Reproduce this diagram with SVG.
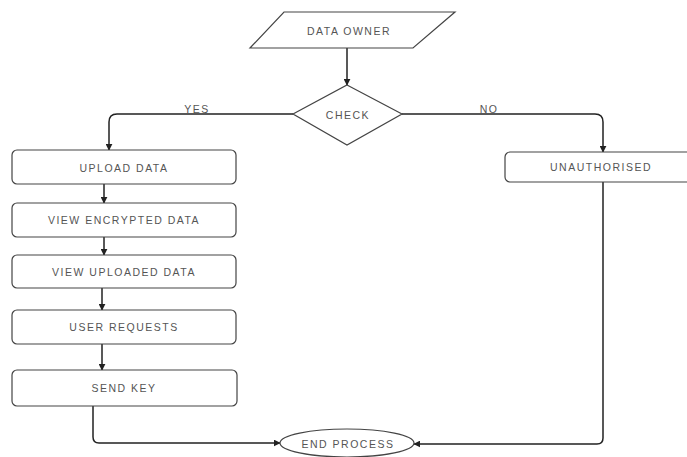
<svg xmlns="http://www.w3.org/2000/svg" width="687" height="457" viewBox="0 0 687 457">
<defs>
<marker id="arr" viewBox="0 0 10 10" refX="9" refY="5" markerWidth="7" markerHeight="7" markerUnits="userSpaceOnUse" orient="auto">
<path d="M0,0 L10,5 L0,10 z" fill="#222"/>
</marker>
<style>
.shape{fill:#fff;stroke:#444;stroke-width:1.2}
.t{font-family:"Liberation Sans",Arial,sans-serif;font-size:10.5px;letter-spacing:1.5px;fill:#555;text-anchor:middle;dominant-baseline:central}
.c{fill:none;stroke:#444;stroke-width:1.2}
.ca{fill:none;stroke:#222;stroke-width:1.5;marker-end:url(#arr)}
</style>
</defs>
<rect width="687" height="457" fill="#fff"/>
<g id="connectors">
<path class="ca" d="M347,48 V85"/>
<path class="ca" d="M293,114 H117 Q109,114 109,122 V150"/>
<path class="ca" d="M402,114 H595 Q603,114 603,122 V152"/>
<path class="ca" d="M104,184 V203"/>
<path class="ca" d="M104,237 V255"/>
<path class="ca" d="M102,288 V310"/>
<path class="ca" d="M102,344 V370"/>
<path class="ca" d="M93,406 V437 Q93,443 99,443 H280"/>
<path class="ca" d="M603,182 V438 Q603,444 597,444 H414"/>
<text class="t" x="197" y="109">YES</text>
<text class="t" x="489" y="109">NO</text>
</g>
<g id="data-owner">
<polygon class="shape" points="284,12 455,12 413,48 250,48"/>
<text class="t" x="349" y="31">DATA OWNER</text>
</g>
<g id="check">
<polygon class="shape" points="347,85 402,114 347,145 293,114"/>
<text class="t" x="348" y="115">CHECK</text>
</g>
<g id="upload-data">
<rect class="shape" x="12" y="150" width="224" height="34" rx="5"/>
<text class="t" x="124" y="168">UPLOAD DATA</text>
</g>
<g id="view-encrypted-data">
<rect class="shape" x="12" y="203" width="224" height="34" rx="5"/>
<text class="t" x="124" y="220">VIEW ENCRYPTED DATA</text>
</g>
<g id="view-uploaded-data">
<rect class="shape" x="12" y="255" width="224" height="33" rx="5"/>
<text class="t" x="124" y="272">VIEW UPLOADED DATA</text>
</g>
<g id="user-requests">
<rect class="shape" x="12" y="310" width="224" height="34" rx="5"/>
<text class="t" x="124" y="327">USER REQUESTS</text>
</g>
<g id="send-key">
<rect class="shape" x="12" y="370" width="225" height="36" rx="5"/>
<text class="t" x="124" y="388">SEND KEY</text>
</g>
<g id="unauthorised">
<rect class="shape" x="505" y="152" width="195" height="30" rx="5"/>
<text class="t" x="601" y="167">UNAUTHORISED</text>
</g>
<g id="end-process">
<ellipse class="shape" cx="347" cy="443" rx="67" ry="14"/>
<text class="t" x="348" y="444">END PROCESS</text>
</g>
</svg>
